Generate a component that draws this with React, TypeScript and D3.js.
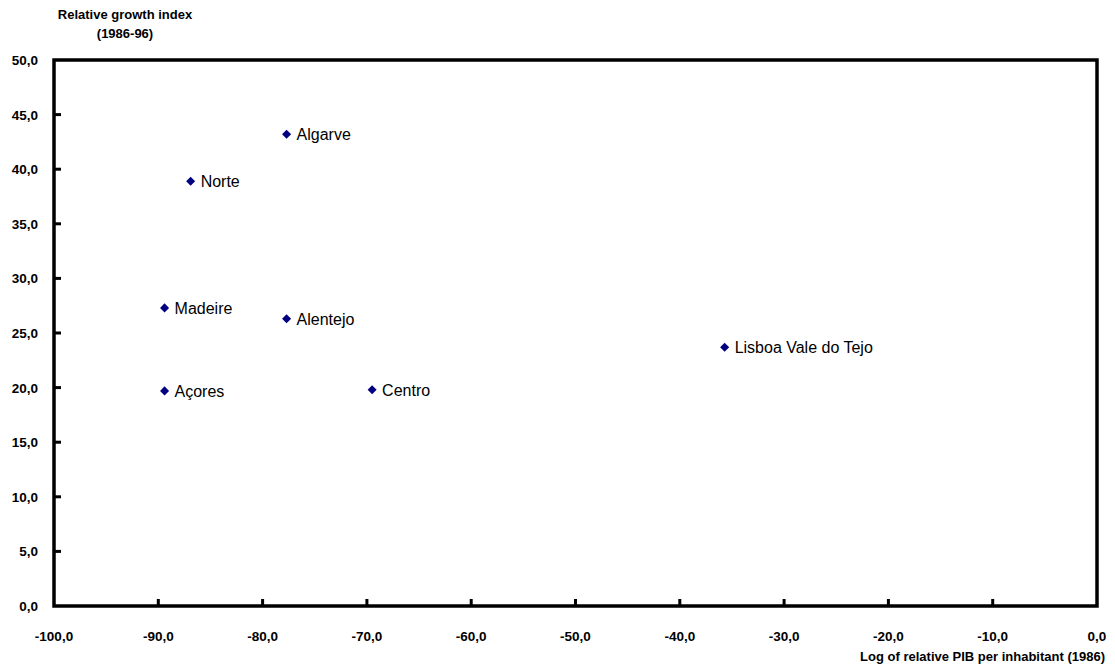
import { useEffect, useRef } from "react"
import * as d3 from "d3"

const regions = ["Algarve", "Norte", "Madeire", "Alentejo", "Açores", "Centro", "Lisboa Vale do Tejo"]
const logPib = [-77.7, -86.9, -89.4, -77.7, -89.4, -69.5, -35.7]
const growth = [43.2, 38.9, 27.3, 26.3, 19.7, 19.8, 23.7]
const xTicks = [-100, -90, -80, -70, -60, -50, -40, -30, -20, -10, 0]
const yTicks = [0, 5, 10, 15, 20, 25, 30, 35, 40, 45, 50]

export default function App() {
  const svgRef = useRef<SVGSVGElement | null>(null)

  useEffect(() => {
    if (!svgRef.current) return
    const svg = d3.select(svgRef.current)
    svg.selectAll("*").remove()

    const left = 54
    const right = 1097
    const top = 60
    const bottom = 606
    const font = "Arial, 'Liberation Sans', sans-serif"
    // comma decimals, plain hyphen for negatives
    const fmt = (v: number) => v.toFixed(1).replace(".", ",")

    const x = d3.scaleLinear().domain([-100, 0]).range([left, right])
    const y = d3.scaleLinear().domain([0, 50]).range([bottom, top])

    // Y axis title
    svg
      .append("text")
      .attr("x", 125)
      .attr("y", 19)
      .attr("text-anchor", "middle")
      .attr("font-family", font)
      .attr("font-weight", "bold")
      .attr("font-size", 13)
      .text("Relative growth index")
    svg
      .append("text")
      .attr("x", 125)
      .attr("y", 38)
      .attr("text-anchor", "middle")
      .attr("font-family", font)
      .attr("font-weight", "bold")
      .attr("font-size", 13)
      .text("(1986-96)")

    // Ticks (inward)
    svg
      .append("g")
      .selectAll("line")
      .data(xTicks.slice(1, -1))
      .enter()
      .append("line")
      .attr("x1", (d) => x(d))
      .attr("x2", (d) => x(d))
      .attr("y1", bottom)
      .attr("y2", bottom - 7)
      .attr("stroke", "#000")
      .attr("stroke-width", 3)
    svg
      .append("g")
      .selectAll("line")
      .data(yTicks.slice(1, -1))
      .enter()
      .append("line")
      .attr("x1", left)
      .attr("x2", left + 7)
      .attr("y1", (d) => y(d))
      .attr("y2", (d) => y(d))
      .attr("stroke", "#000")
      .attr("stroke-width", 3)

    // Frame
    svg
      .append("rect")
      .attr("x", left)
      .attr("y", top)
      .attr("width", right - left)
      .attr("height", bottom - top)
      .attr("fill", "none")
      .attr("stroke", "#000")
      .attr("stroke-width", 3.5)

    // Tick labels
    svg
      .append("g")
      .selectAll("text")
      .data(xTicks)
      .enter()
      .append("text")
      .attr("x", (d) => x(d))
      .attr("y", 641)
      .attr("text-anchor", "middle")
      .attr("font-family", font)
      .attr("font-weight", "bold")
      .attr("font-size", 13.5)
      .text((d) => fmt(d))
    svg
      .append("g")
      .selectAll("text")
      .data(yTicks)
      .enter()
      .append("text")
      .attr("x", 38)
      .attr("y", (d) => y(d) + 5)
      .attr("text-anchor", "end")
      .attr("font-family", font)
      .attr("font-weight", "bold")
      .attr("font-size", 13.5)
      .text((d) => fmt(d))

    // X axis title
    svg
      .append("text")
      .attr("x", 1105)
      .attr("y", 661)
      .attr("text-anchor", "end")
      .attr("font-family", font)
      .attr("font-weight", "bold")
      .attr("font-size", 13)
      .text("Log of relative PIB per inhabitant (1986)")

    // Points
    const pts = regions.map((r, i) => ({ name: r, x: logPib[i], y: growth[i] }))
    const diamond = d3.symbol().type(d3.symbolDiamond2).size(52)
    svg
      .append("g")
      .selectAll("path")
      .data(pts)
      .enter()
      .append("path")
      .attr("d", diamond)
      .attr("transform", (d) => `translate(${x(d.x)},${y(d.y)})`)
      .attr("fill", "#000080")
    svg
      .append("g")
      .selectAll("text")
      .data(pts)
      .enter()
      .append("text")
      .attr("x", (d) => x(d.x) + 10)
      .attr("y", (d) => y(d.y) + 6)
      .attr("font-family", font)
      .attr("font-size", 16)
      .attr("fill", "#000")
      .text((d) => d.name)
  }, [])

  return <svg ref={svgRef} width={1115} height={672} style={{ position: "absolute", left: 0, top: 0 }}></svg>
}
